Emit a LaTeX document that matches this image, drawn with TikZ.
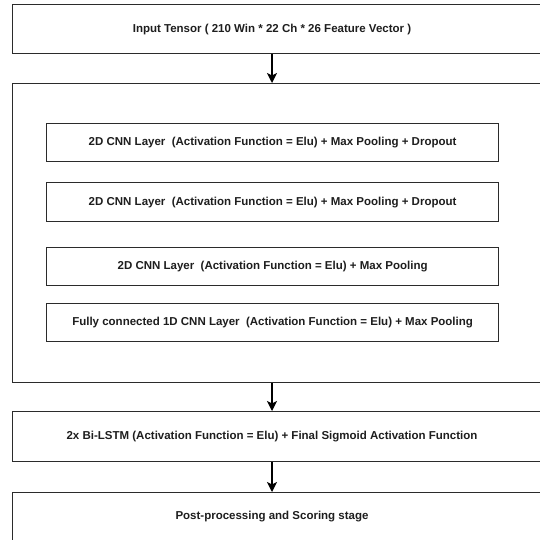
\documentclass[tikz,border=0pt]{standalone}
\usepackage{fontspec}
\setmainfont{Liberation Sans}
\usetikzlibrary{arrows.meta}
\definecolor{ln}{HTML}{2B2B2B}
\definecolor{tx}{HTML}{1E1E1E}
\tikzset{
  box/.style={draw=ln, line width=1.2pt, fill=white, rectangle, anchor=north west, inner sep=0pt},
  lbl/.style={text=tx, font=\fontsize{11.5pt}{13pt}\selectfont\bfseries, inner sep=0pt},
  arr/.style={draw=black, line width=1.6pt, -{Stealth[length=10pt,width=10pt,inset=2.5pt]}}
}
\begin{document}
\begin{tikzpicture}[x=1pt,y=-1pt]
\useasboundingbox (0,0) rectangle (540,539);
\fill[white] (0,0) rectangle (540,539);
\coordinate (ax) at (272,0);
% outer boxes
\node[box, minimum width=560pt, minimum height=49pt] (in) at (12,4) {};
\node[lbl] (inT) at (272,29.5) {Input Tensor ( 210 Win * 22 Ch * 26 Feature Vector )};
\node[box, minimum width=560pt, minimum height=299pt] (cnn) at (12,83) {};
\node[box, minimum width=560pt, minimum height=50pt] (lstm) at (12,411) {};
\node[lbl] (lstmT) at (272,437) {2x Bi-LSTM (Activation Function = Elu) + Final Sigmoid Activation Function};
\node[box, minimum width=560pt, minimum height=80pt] (post) at (12,492) {};
\node[lbl] (postT) at (272,517) {Post-processing and Scoring stage};
% inner boxes
\node[box, minimum width=452pt, minimum height=38pt] (c1) at (46,123) {};
\node[lbl] at (c1.center) {2D CNN Layer\ \ (Activation Function = Elu) + Max Pooling + Dropout};
\node[box, minimum width=452pt, minimum height=39pt] (c2) at (46,182) {};
\node[lbl] at (c2.center) {2D CNN Layer\ \ (Activation Function = Elu) + Max Pooling + Dropout};
\node[box, minimum width=452pt, minimum height=38pt] (c3) at (46,247) {};
\node[lbl] at (c3.center) {2D CNN Layer\ \ (Activation Function = Elu) + Max Pooling};
\node[box, minimum width=452pt, minimum height=38pt] (c4) at (46,303) {};
\node[lbl] at (c4.center) {Fully connected 1D CNN Layer\ \ (Activation Function = Elu) + Max Pooling};
% arrows
\draw[arr] (in.south -| ax) -- (cnn.north -| ax);
\draw[arr] (cnn.south -| ax) -- (lstm.north -| ax);
\draw[arr] (lstm.south -| ax) -- (post.north -| ax);
\end{tikzpicture}
\end{document}
